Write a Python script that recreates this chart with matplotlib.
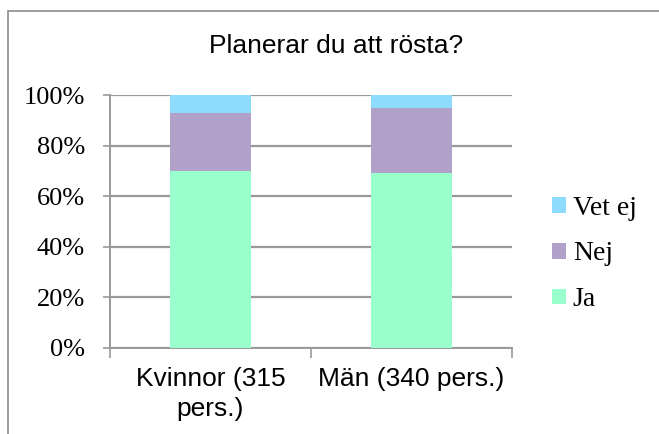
import numpy as np
import matplotlib.pyplot as plt
from matplotlib.patches import Rectangle

categories = ['Kvinnor (315\npers.)', 'Män (340 pers.)']
ja = [0.70, 0.69]
nej = [0.23, 0.26]
vet_ej = [0.07, 0.05]
yticks = [0, 0.2, 0.4, 0.6, 0.8, 1.0]
ytick_labels = ['0%', '20%', '40%', '60%', '80%', '100%']

c_ja = '#99FFCC'
c_nej = '#B1A0C7'
c_vet = '#8DDCFE'
grid_c = '#999999'

fig = plt.figure(figsize=(6.59, 4.34), dpi=100)
ax = fig.add_axes([110/659, 1-348/434, 402/659, 253/434])

# outer chart border
fig.patches.append(Rectangle((8/659, -0.1), 1.2, 1 - 11/434 + 0.1, transform=fig.transFigure,
                             fill=False, edgecolor='#8c8c8c', linewidth=1.2))

x = np.arange(len(categories))
w = 0.4
bottom2 = np.array(ja) + np.array(nej)
b1 = ax.bar(x, ja, w, color=c_ja, label='Ja', zorder=3)
b2 = ax.bar(x, nej, w, bottom=ja, color=c_nej, label='Nej', zorder=3)
b3 = ax.bar(x, vet_ej, w, bottom=bottom2, color=c_vet, label='Vet ej', zorder=3)

ax.set_xlim(-0.5, 1.5)
ax.set_ylim(0, 1)
ax.set_yticks(yticks)
ax.set_yticklabels(ytick_labels, family='Liberation Serif', fontsize=19)
ax.yaxis.grid(True, color=grid_c, linewidth=1.6, zorder=0)
ax.set_axisbelow(True)

ax.set_xticks(x)
ax.set_xticklabels(categories, family='Liberation Sans', fontsize=19, linespacing=1.3)
ax.set_xticks([-0.5, 0.5, 1.5], minor=True)
ax.tick_params(axis='x', which='major', length=0, pad=14)
ax.tick_params(axis='x', which='minor', length=7, width=1.2, color=grid_c)
ax.tick_params(axis='y', length=5, width=1.2, color=grid_c, pad=13)

for s in ['top', 'right']:
    ax.spines[s].set_visible(False)
for s in ['left', 'bottom']:
    ax.spines[s].set_color(grid_c)
    ax.spines[s].set_linewidth(1.4)

fig.text(336/659, 1-46/434, 'Planerar du att rösta?', ha='center', va='center',
         family='Liberation Sans', fontsize=19)

fig.legend([b3, b2, b1], ['Vet ej', 'Nej', 'Ja'], loc='center left',
           bbox_to_anchor=(527/659, 1-254/434), frameon=False,
           prop={'family': 'Liberation Serif', 'size': 20},
           handlelength=0.5, handleheight=0.5, handletextpad=0.25, labelspacing=0.75)

fig.savefig('out.png', dpi=100)
